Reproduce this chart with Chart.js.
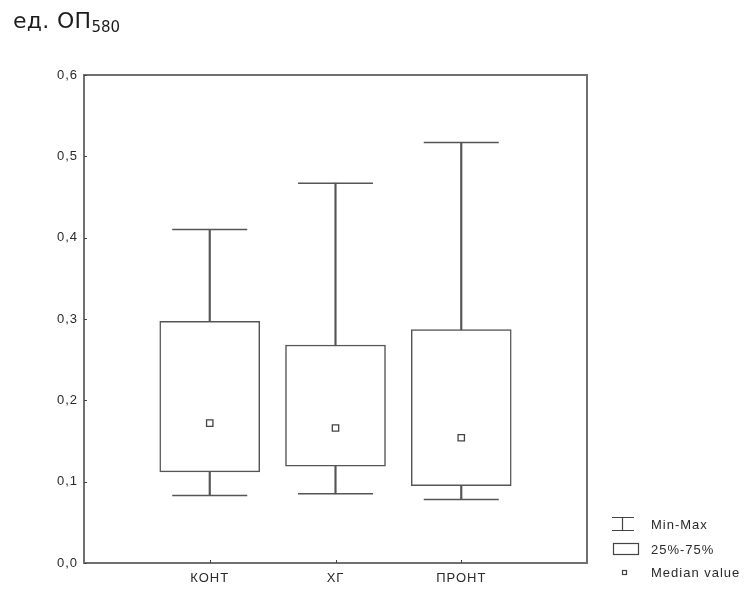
<!DOCTYPE html>
<html>
<head>
<meta charset="utf-8">
<script src="https://cdn.jsdelivr.net/npm/chart.js@4.4.1/dist/chart.umd.min.js"></script>
<style>
	html, body { margin: 0; padding: 0; background: #fff; }
	#wrap { position: relative; width: 747px; height: 590px; }
	#title {
		position: absolute; left: 13px; top: 10px;
		font-family: 'DejaVu Sans', sans-serif; font-size: 22px; line-height: 22px;
		color: #1c1c1c; letter-spacing: 0.3px; white-space: nowrap;
	}
	#title span { font-size: 15px; position: relative; top: 4px; letter-spacing: 0; }
</style>
</head>
<body>
<div id="wrap">
	<canvas id="box" width="747" height="590"></canvas>
	<div id="title">ед. ОП<span>580</span></div>
</div>
<script>
// groups and their stats
const groups = ['КОНТ', 'ХГ', 'ПРОНТ']
const minVals = [0.083, 0.085, 0.078]
const q1Vals = [0.112, 0.119, 0.095]
const medianVals = [0.172, 0.166, 0.154]
const q3Vals = [0.297, 0.268, 0.287]
const maxVals = [0.410, 0.467, 0.517]
const legendItems = ['Min-Max', '25%-75%', 'Median value']

const lineColor = '#555'
const textColor = '#2a2a2a'
const tickFont = { family: "'Liberation Sans', Arial, sans-serif", size: 13 }

//empty slot on each side so the groups sit at 1, 2, 3 of 0..4
const xLabels = ['', ...groups, '']
const pad = arr => [null, ...arr, null]

const whiskers = pad(groups.map((g, i) => [minVals[i], maxVals[i]]))
const boxes = pad(groups.map((g, i) => [q1Vals[i], q3Vals[i]]))

//frame round the plot and small inner ticks
const framePlugin = {
	id: 'frame',
	beforeDraw: chart => {
		chart.ctx.letterSpacing = '1px'
	},
	afterDatasetsDraw: chart => {
		const { ctx, chartArea: a, scales } = chart
		ctx.save()
		ctx.strokeStyle = '#707070'
		ctx.lineWidth = 2
		ctx.strokeRect(a.left, a.top, a.right - a.left, a.bottom - a.top)

		ctx.lineWidth = 1
		ctx.strokeStyle = '#444'
		ctx.beginPath()
		for (const t of scales.y.ticks) {
			const y = Math.round(scales.y.getPixelForValue(t.value)) + 0.5
			ctx.moveTo(a.left, y)
			ctx.lineTo(a.left + 3, y)
		}
		groups.forEach((g, i) => {
			const x = Math.round(scales.x.getPixelForValue(i + 1)) + 0.5
			ctx.moveTo(x, a.bottom)
			ctx.lineTo(x, a.bottom - 3)
		})
		ctx.stroke()
		ctx.restore()
	},
}

const legendPlugin = {
	id: 'sideLegend',
	afterDraw: chart => {
		const ctx = chart.ctx
		ctx.save()
		ctx.strokeStyle = '#444'
		ctx.lineWidth = 1.2

		//Min-Max icon
		ctx.beginPath()
		ctx.moveTo(612, 517.5)
		ctx.lineTo(634, 517.5)
		ctx.moveTo(622.5, 517.5)
		ctx.lineTo(622.5, 530.5)
		ctx.moveTo(612, 530.5)
		ctx.lineTo(634, 530.5)
		ctx.stroke()

		//box icon
		ctx.strokeRect(613.5, 543.5, 25, 11)

		//median icon
		ctx.strokeRect(622.5, 570.5, 4, 4)

		ctx.fillStyle = textColor
		ctx.font = `13px ${tickFont.family}`
		ctx.letterSpacing = '1px'
		ctx.textBaseline = 'middle'
		const ys = [525, 550, 573]
		legendItems.forEach((t, i) => ctx.fillText(t, 651, ys[i]))
		ctx.restore()
	},
}

const ctx = document.querySelector('#box').getContext('2d')

new Chart(ctx, {
	type: 'bar',
	data: {
		labels: xLabels,
		datasets: [
			{
				label: 'Min-Max',
				data: whiskers,
				backgroundColor: lineColor,
				borderWidth: 0,
				barThickness: 1.5,
				grouped: false,
				order: 4,
			},
			{
				label: '25%-75%',
				data: boxes,
				backgroundColor: '#fff',
				borderColor: lineColor,
				borderWidth: 1.5,
				borderSkipped: false,
				barThickness: 100,
				grouped: false,
				order: 3,
			},
			{
				type: 'line',
				label: 'max',
				data: pad(maxVals),
				showLine: false,
				pointStyle: 'line',
				pointRadius: 37.5,
				pointBorderColor: lineColor,
				pointBorderWidth: 1.5,
				order: 2,
			},
			{
				type: 'line',
				label: 'min',
				data: pad(minVals),
				showLine: false,
				pointStyle: 'line',
				pointRadius: 37.5,
				pointBorderColor: lineColor,
				pointBorderWidth: 1.5,
				order: 2,
			},
			{
				type: 'line',
				label: 'Median value',
				data: pad(medianVals),
				showLine: false,
				pointStyle: 'rect',
				pointRadius: 4.5,
				pointBackgroundColor: '#fff',
				pointBorderColor: '#444',
				pointBorderWidth: 1.3,
				order: 1,
			},
		],
	},
	options: {
		responsive: false,
		animation: false,
		layout: {
			autoPadding: false,
			padding: { top: 75, right: 160, left: 0, bottom: 0 },
		},
		plugins: {
			legend: { display: false },
			tooltip: { enabled: false },
		},
		scales: {
			x: {
				type: 'category',
				offset: false,
				grid: { display: false, drawTicks: false },
				border: { display: false },
				ticks: {
					font: tickFont,
					color: textColor,
					padding: 8,
					autoSkip: false,
					maxRotation: 0,
				},
				afterFit: s => {
					s.height = 27
				},
			},
			y: {
				min: 0,
				max: 0.6,
				grid: { display: false, drawTicks: false },
				border: { display: false },
				ticks: {
					stepSize: 0.1,
					font: tickFont,
					color: textColor,
					padding: 6,
					callback: v => v.toFixed(1).replace('.', ','),
				},
				afterFit: s => {
					s.width = 84
				},
			},
		},
	},
	plugins: [framePlugin, legendPlugin],
})
</script>
</body>
</html>
